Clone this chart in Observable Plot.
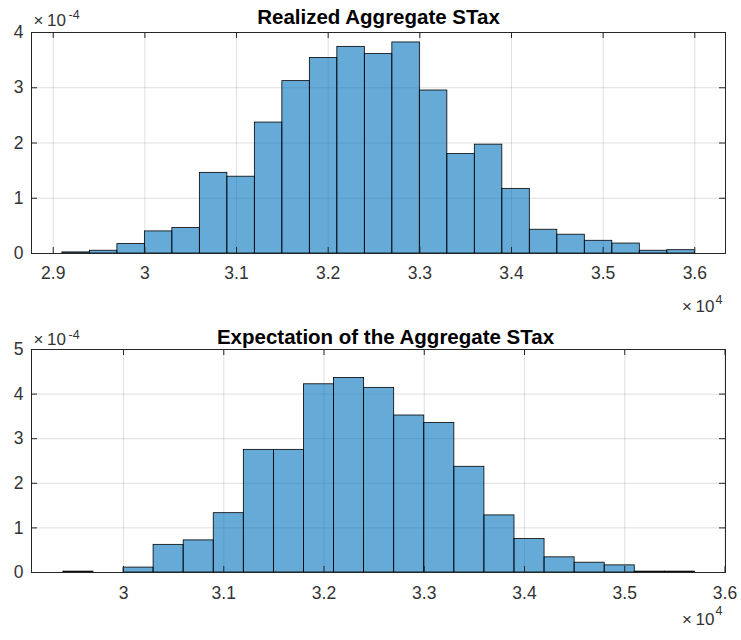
<!DOCTYPE html>
<html><head><meta charset="utf-8">
<script src="https://cdn.jsdelivr.net/npm/d3@7"></script>
<script src="https://cdn.jsdelivr.net/npm/@observablehq/plot@0.6"></script>
<style>body{margin:0;background:#fff;} #charts svg{display:block;}</style>
</head><body><div id="charts"></div>
<script>
// ---- Top panel: Realized Aggregate STax ----
const topTitle = "Realized Aggregate STax";
const topEdges = [29100, 29400, 29700, 30000, 30300, 30600, 30900, 31200, 31500, 31800, 32100, 32400,
                  32700, 33000, 33300, 33600, 33900, 34200, 34500, 34800, 35100, 35400, 35700, 36000];
const topValues = [0.02, 0.05, 0.17, 0.40, 0.46, 1.46, 1.39, 2.37, 3.12, 3.54, 3.74, 3.61,
                   3.82, 2.95, 1.80, 1.97, 1.17, 0.43, 0.34, 0.23, 0.18, 0.05, 0.06]; // ×1e-4
const topXTicks = [29000, 30000, 31000, 32000, 33000, 34000, 35000, 36000];
const topXTickLabels = ["2.9", "3", "3.1", "3.2", "3.3", "3.4", "3.5", "3.6"];
const topYTicks = [0, 1, 2, 3, 4];
const topYTickLabels = ["0", "1", "2", "3", "4"];

// ---- Bottom panel: Expectation of the Aggregate STax ----
const botTitle = "Expectation of the Aggregate STax";
const botEdges = [29400, 29700, 30000, 30300, 30600, 30900, 31200, 31500, 31800, 32100, 32400,
                  32700, 33000, 33300, 33600, 33900, 34200, 34500, 34800, 35100, 35400, 35700];
const botValues = [0.02, 0, 0.11, 0.62, 0.72, 1.33, 2.75, 2.75, 4.22, 4.36, 4.14,
                   3.52, 3.35, 2.37, 1.28, 0.75, 0.34, 0.22, 0.16, 0.02, 0.02]; // ×1e-4
const botXTicks = [30000, 31000, 32000, 33000, 34000, 35000, 36000];
const botXTickLabels = ["3", "3.1", "3.2", "3.3", "3.4", "3.5", "3.6"];
const botYTicks = [0, 1, 2, 3, 4, 5];
const botYTickLabels = ["0", "1", "2", "3", "4", "5"];

const yExponent = "-4";
const xExponent = "4";

const W = 741, ML = 31, MR = 16;
const FONT = "'Liberation Sans', Arial, Helvetica, sans-serif";
const AX = "#262626";

function panel(o) {
  const H = 320;
  const fh = H - o.marginTop - o.marginBottom;
  const fw = W - ML - MR;
  const bins = o.values.map((v, i) => ({x1: o.edges[i], x2: o.edges[i + 1], y: v}));
  const tick = 6;
  return Plot.plot({
    width: W, height: H,
    marginTop: o.marginTop, marginBottom: o.marginBottom, marginLeft: ML, marginRight: MR,
    style: {fontFamily: FONT, background: "#fff", overflow: "visible"},
    x: {domain: o.xDomain, label: null},
    y: {domain: o.yDomain, label: null},
    marks: [
      Plot.gridX(o.xTicks, {stroke: AX, strokeOpacity: 0.15, strokeWidth: 1}),
      Plot.gridY(o.yTicks, {stroke: AX, strokeOpacity: 0.15, strokeWidth: 1}),
      Plot.rectY(bins, {x1: "x1", x2: "x2", y: "y", fill: "#0072bd", fillOpacity: 0.6,
                        stroke: "#000", strokeWidth: 0.8}),
      Plot.frame({stroke: AX, strokeWidth: 1}),
      Plot.tickX(o.xTicks, {x: d => d, insetTop: fh - tick, stroke: AX}),
      Plot.tickX(o.xTicks, {x: d => d, insetBottom: fh - tick, stroke: AX}),
      Plot.tickY(o.yTicks, {y: d => d, insetRight: fw - tick, stroke: AX}),
      Plot.tickY(o.yTicks, {y: d => d, insetLeft: fw - tick, stroke: AX}),
      Plot.axisX(o.xTicks, {tickSize: 0, tickPadding: o.xPad, fontSize: 17.5, fill: "#333", label: null,
                            tickFormat: (d, i) => o.xTickLabels[i]}),
      Plot.axisY(o.yTicks, {tickSize: 0, tickPadding: 8, fontSize: 17.5, fill: "#333", label: null,
                            tickFormat: (d, i) => o.yTickLabels[i]}),
      // title
      Plot.text([o.title], {text: d => d, frameAnchor: "top", lineAnchor: "bottom", dx: o.titleDx, dy: o.titleDy,
                            fontWeight: "bold", fontSize: 20.5, fill: "#000", style: "letter-spacing:0.45px"}),
      // y multiplier ×10^-4
      Plot.text(["×"], {text: d => d, frameAnchor: "top-left", textAnchor: "start", lineAnchor: "bottom",
                        dx: 2, dy: o.yExpDy, fontSize: 17, fill: "#333"}),
      Plot.text(["10"], {text: d => d, frameAnchor: "top-left", textAnchor: "start", lineAnchor: "bottom",
                         dx: 15.5, dy: o.yExpDy, fontSize: 17, fill: "#333"}),
      Plot.text([yExponent], {text: d => d, frameAnchor: "top-left", textAnchor: "start", lineAnchor: "bottom",
                              dx: 37, dy: o.yExpSupDy, fontSize: 12.5, fill: "#333"}),
      // x multiplier ×10^4
      Plot.text(["×"], {text: d => d, frameAnchor: "bottom-right", textAnchor: "start", lineAnchor: "bottom",
                        dx: -43.5, dy: o.xExpDy, fontSize: 17, fill: "#333"}),
      Plot.text(["10"], {text: d => d, frameAnchor: "bottom-right", textAnchor: "start", lineAnchor: "bottom",
                         dx: -30, dy: o.xExpDy, fontSize: 17, fill: "#333"}),
      Plot.text([xExponent], {text: d => d, frameAnchor: "bottom-right", textAnchor: "start", lineAnchor: "bottom",
                              dx: -10, dy: o.xExpSupDy, fontSize: 12.5, fill: "#333"})
    ]
  });
}

const host = document.getElementById("charts");
host.append(panel({
  title: topTitle, edges: topEdges, values: topValues,
  xTicks: topXTicks, xTickLabels: topXTickLabels, yTicks: topYTicks, yTickLabels: topYTickLabels,
  xDomain: [28763, 36335], yDomain: [0, 4],
  marginTop: 32, marginBottom: 67, xPad: 13,
  titleDx: 0, titleDy: -8.7,
  yExpDy: -7, yExpSupDy: -13.7,
  xExpDy: 58.4, xExpSupDy: 50
}));
host.append(panel({
  title: botTitle, edges: botEdges, values: botValues,
  xTicks: botXTicks, xTickLabels: botXTickLabels, yTicks: botYTicks, yTickLabels: botYTickLabels,
  xDomain: [29082, 36005], yDomain: [0, 5],
  marginTop: 29, marginBottom: 68, xPad: 14,
  titleDx: 7, titleDy: -5.7,
  yExpDy: -5, yExpSupDy: -10.7,
  xExpDy: 52.7, xExpSupDy: 42.7
}));
</script></body></html>
